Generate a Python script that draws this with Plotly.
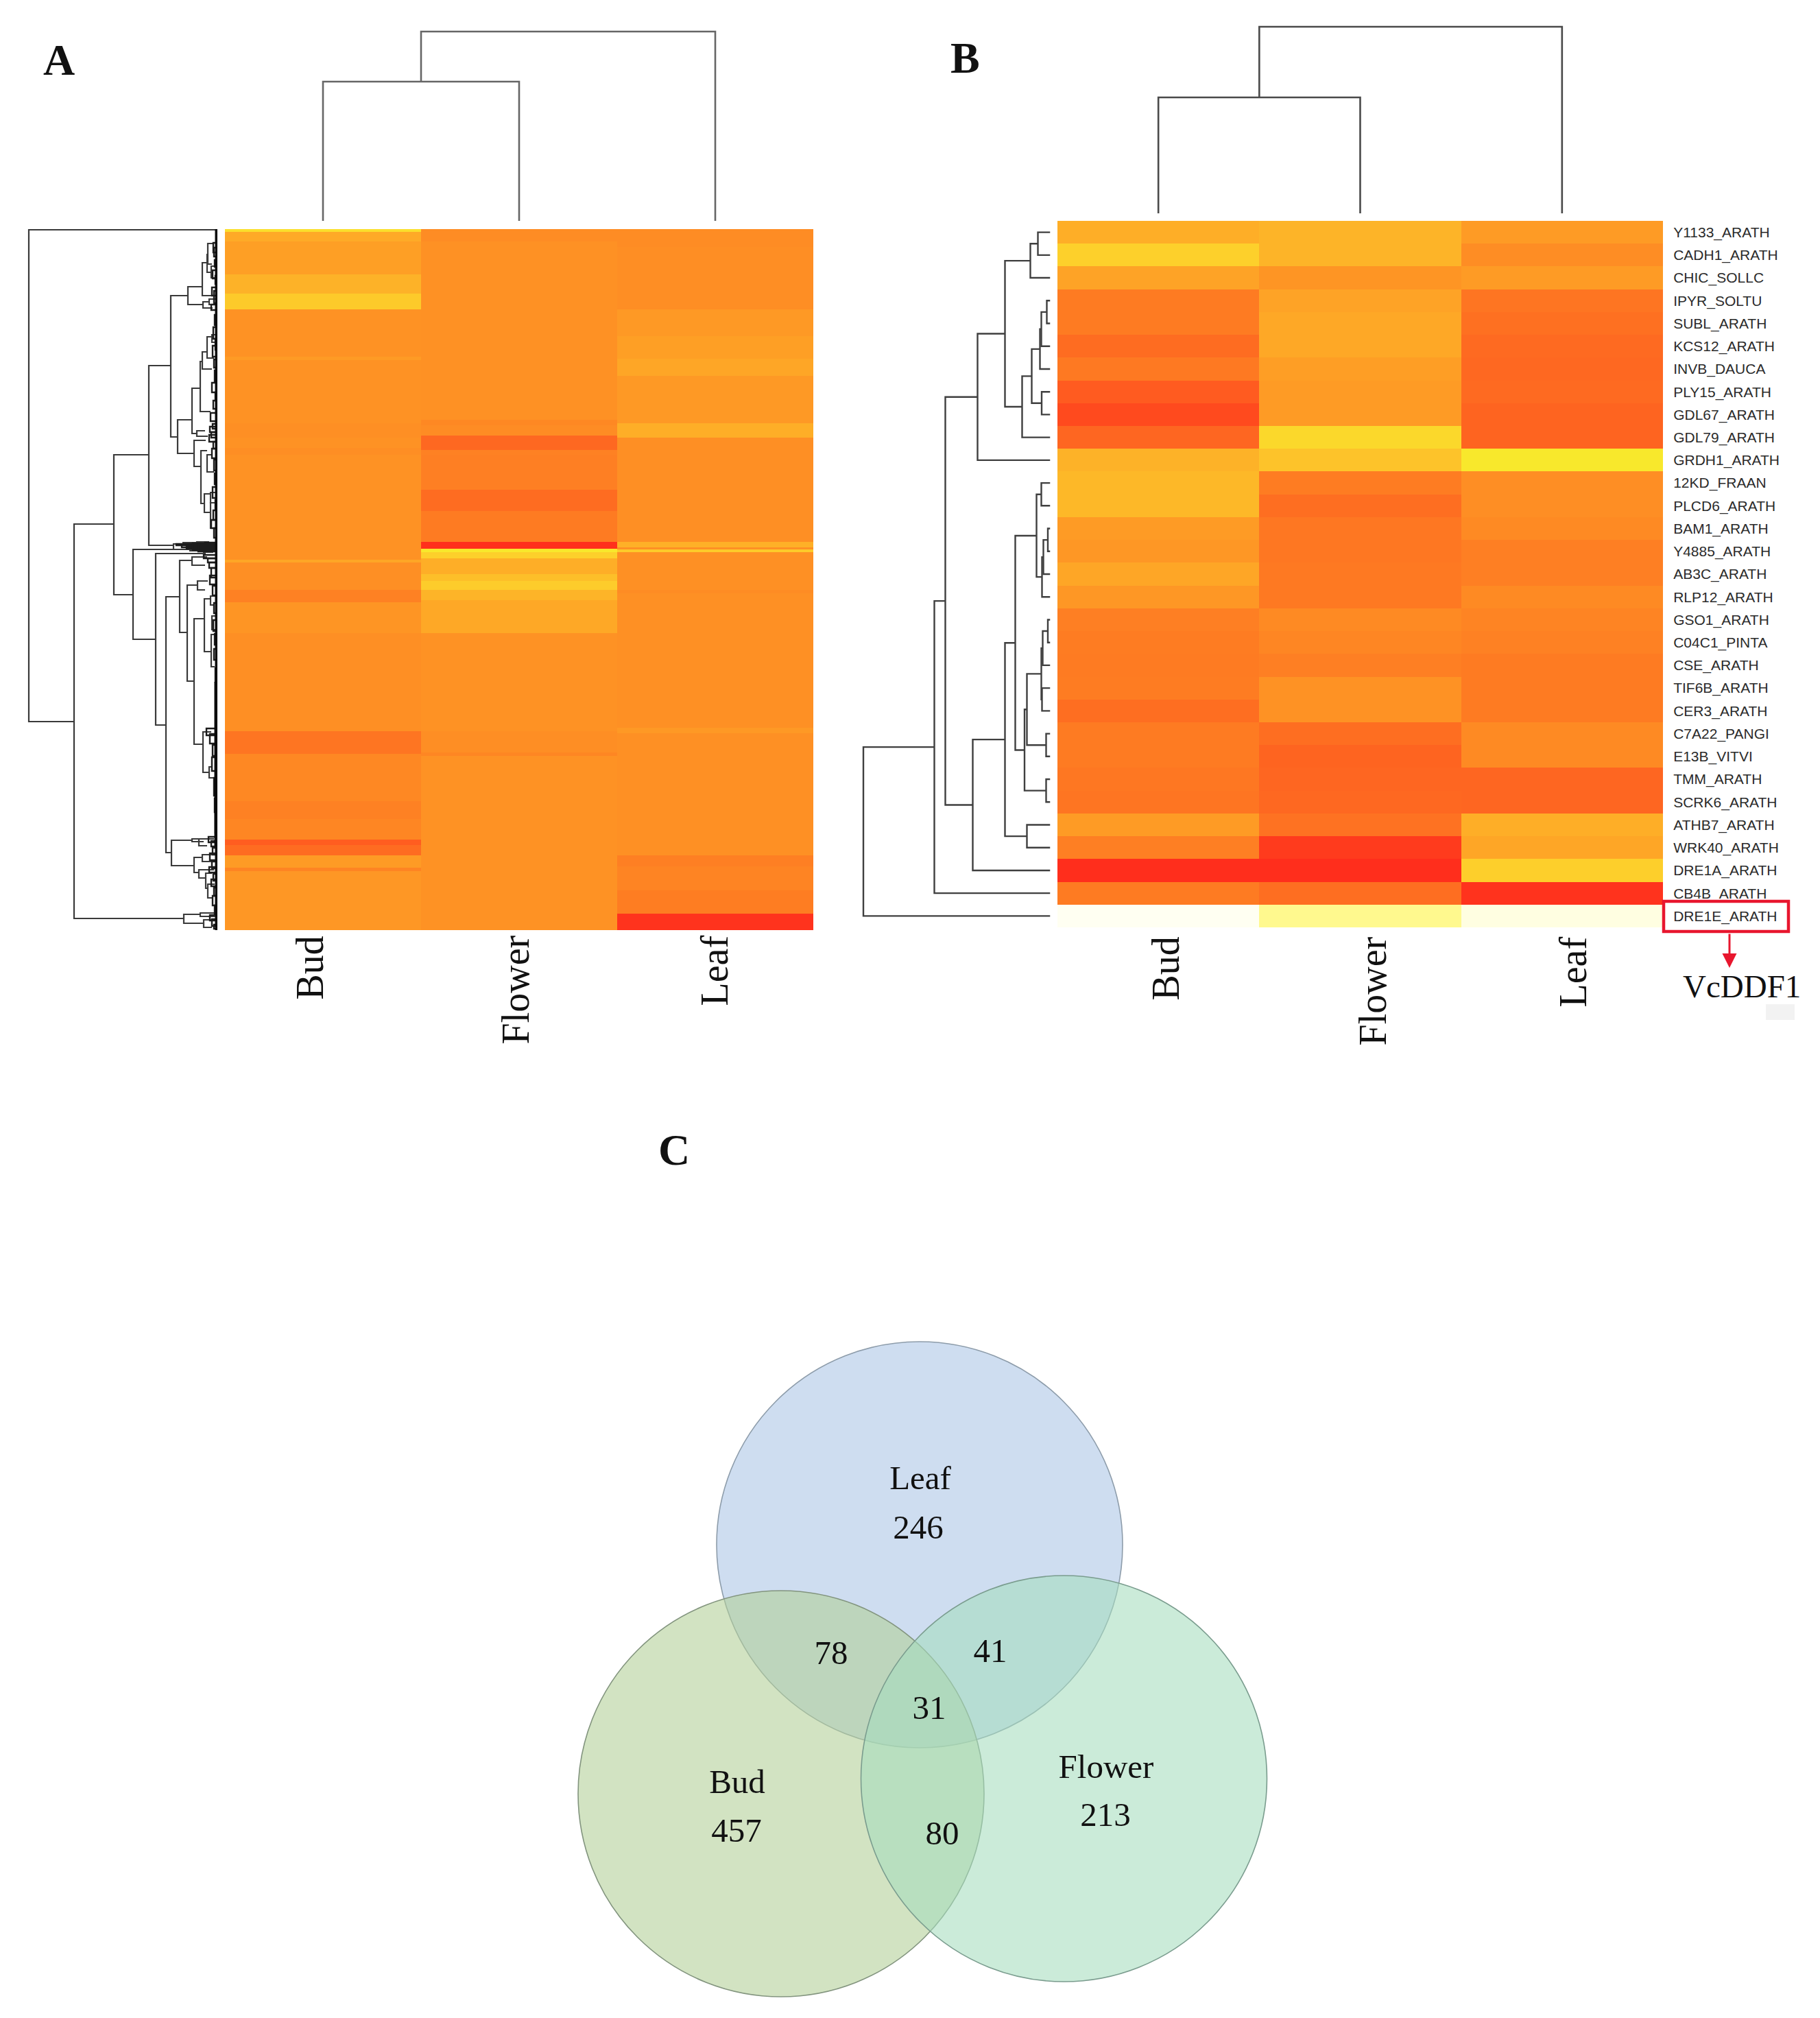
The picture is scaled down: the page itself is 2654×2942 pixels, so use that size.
import plotly.graph_objects as go

W, H = 2654, 2942
COLS = ["Bud", "Flower", "Leaf"]

# ---------- Panel A: bands of genes (rank edges) and expression values per tissue
A_BUD_EDGES = [0,4,18,66,94,117,186,191,283,304,319,329,482,486,526,544,589,732,765,834,860,890,898,913,931,936,1022]
A_BUD_VALS = [.85,.60,.55,.64,.75,.49,.53,.49,.475,.49,.47,.49,.58,.475,.41,.50,.475,.35,.44,.41,.43,.24,.31,.53,.42,.51]
A_FLOWER_EDGES = [0,18,278,286,301,322,329,380,411,456,466,471,480,503,513,526,541,589,732,763,768,1022]
A_FLOWER_VALS = [.46,.485,.44,.46,.29,.41,.40,.31,.38,.03,.89,.78,.62,.70,.76,.65,.59,.49,.47,.43,.49]
A_LEAF_EDGES = [0,26,117,156,189,214,283,304,456,464,467,471,526,531,727,735,913,929,964,998,1022]
A_LEAF_VALS = [.46,.47,.52,.55,.58,.52,.62,.475,.63,.475,.75,.48,.46,.48,.52,.48,.40,.42,.39,.04]

# Panel A row tree: merge height, upper rank, upper child height, lower rank, lower child height
A_ROW_MERGES = [
    (275,1,0,718,209),(209,430,151,1005,49),(151,329,100,533,123),(100,199,68,461,64),(68,97,43,303,58),
    (43,84,22,110,21),(22,49,15,97,5),(15,37,14,63,9),(14,21,6,51,8),(9,54,3,71,3),(21,106,12,115,7),(12,102,2,110,3),
    (58,278,37,327,34),(37,232,25,298,30),(25,193,22,266,10),(22,179,15,204,8),(15,157,8,188,5),(8,154,2,165,3),
    (30,294,18,302,14),(34,308,17,346,24),(24,323,15,400,19),(15,329,7,354,5),(19,386,10,413,10),(10,384,3,399,4),
    (10,399,3,436,4),(64,459,50,467,40),(50,457,30,461,30),(40,465,20,469,20),(30,456,12,460,8),(20,463,9,471,6),
    (123,467,5,598,90),(90,473,17,723,75),(75,536,55,909,67),(55,483,37,588,44),(37,478,15,490,18),(44,519,29,659,34),
    (29,513,14,526,18),(34,568,19,751,21),(19,539,10,616,9),(9,591,5,638,4),(10,535,3,548,4),(8,564,3,584,3),
    (21,733,9,792,12),(12,784,8,800,6),(67,891,37,928,34),(37,889,27,893,20),(27,889,5,899,15),(34,916,22,938,27),
    (22,912,8,922,8),(27,934,5,946,17),(17,939,8,961,14),(14,955,4,975,7),(49,999,25,1012,20),(25,997,3,1002,3),
    (20,1007,6,1018,8),
]
# Tiny leaf clusters of panel A: height, upper rank, lower rank
A_FRINGE = [
    (6,20,34),(5,27,40),(4,45,55),(7,60,72),(3,68,80),(8,85,97),(5,90,108),(9,110,118),(4,125,140),(6,143,160),
    (3,160,176),(7,170,186),(5,190,202),(4,206,222),(8,224,238),(3,238,250),(6,250,262),(10,268,280),(7,284,291),
    (11,288,296),(9,296,304),(12,300,310),(6,310,320),(8,320,334),(5,336,352),(4,356,372),(7,376,392),(3,395,408),
    (6,410,424),(9,424,436),(5,436,450),(60,459,461),(52,460,464),(45,462,466),(36,458,468),(28,460,470),(18,457,463),
    (14,480,486),(20,475,480),(12,486,494),(9,494,508),(11,505,518),(7,520,534),(5,545,560),(6,570,586),(4,590,606),
    (5,612,628),(3,640,660),(2,660,700),(16,728,738),(11,736,750),(7,752,768),(8,770,790),(5,800,826),(4,830,850),
    (3,850,880),(13,886,894),(9,892,900),(7,902,912),(11,910,920),(8,922,932),(12,930,938),(6,940,950),(9,948,958),
    (5,960,972),(7,972,986),(4,986,998),(11,1000,1008),(8,1006,1016),(5,1014,1020),
]
A_SPINE = [(1.5,0,1022),(2.5,660,900)]

# Column trees: (height, child, child); leaves are column indexes
A_COL_TREE = (276, (203, 0, 1), 2)
B_COL_TREE = (272, (169, 0, 1), 2)

# ---------- Panel B
B_GENES = ["Y1133_ARATH","CADH1_ARATH","CHIC_SOLLC","IPYR_SOLTU","SUBL_ARATH","KCS12_ARATH","INVB_DAUCA","PLY15_ARATH",
           "GDL67_ARATH","GDL79_ARATH","GRDH1_ARATH","12KD_FRAAN","PLCD6_ARATH","BAM1_ARATH","Y4885_ARATH","AB3C_ARATH",
           "RLP12_ARATH","GSO1_ARATH","C04C1_PINTA","CSE_ARATH","TIF6B_ARATH","CER3_ARATH","C7A22_PANGI","E13B_VITVI",
           "TMM_ARATH","SCRK6_ARATH","ATHB7_ARATH","WRK40_ARATH","DRE1A_ARATH","CB4B_ARATH","DRE1E_ARATH"]
B_BUD = [.62,.78,.57,.38,.38,.31,.37,.23,.15,.28,.64,.665,.665,.53,.51,.58,.51,.40,.385,.38,.385,.32,.38,.38,.36,.35,.53,.40,.02,.38,1.0]
B_FLOWER = [.65,.65,.50,.57,.59,.59,.545,.53,.53,.815,.72,.385,.32,.36,.36,.37,.37,.45,.43,.40,.49,.49,.32,.27,.28,.29,.34,.08,.02,.32,.97]
B_LEAF = [.53,.465,.53,.35,.33,.30,.29,.30,.27,.27,.89,.47,.47,.45,.40,.40,.45,.42,.41,.38,.38,.38,.45,.45,.28,.28,.62,.58,.775,.04,.995]

_top = (66, (29, (18, 0, 1), 2),
        (41, (27, (15, (13, (5, 3, 4), 5), 6), (12.5, 7, 8)), 9))
_g1 = (106, _top, 10)
_g2 = (20, (13, 11, 12), (12, (10, (3.5, 13, 14), 15), 16))
_g3 = (37.5, (34, (13, (11, (3.5, 17, 18), 19), (12, 20, 21)), (6, 22, 23)), (6, 24, 25))
_g4 = (113, (66, (51, _g2, _g3), (34, 26, 27)), 28)
B_ROW_TREE = (272.5, (169, (153, _g1, _g4), 29), 30)

# ---------- Panel C
VENN_NAMES = ["Leaf", "Bud", "Flower"]
VENN_CX = [541, 339, 751.5]
VENN_CY = [352, 715, 693]
VENN_R = [296, 296, 296]
VENN_FILL = ["rgba(170,197,230,.58)", "rgba(178,206,150,.58)", "rgba(165,220,190,.58)"]
VENN_EDGE = ["#8D9CAA", "#82947E", "#7A9C8E"]
VENN_TEXT = ["Leaf", "246", "78", "41", "31", "Bud", "457", "Flower", "213", "80"]
VENN_TX = [542, 539, 412, 644, 555, 275, 274, 813, 812, 574]
VENN_TY = [259, 331, 514, 511, 594, 702, 773, 680, 750, 777]

SCALE = [[0, "rgb(255,42,28)"], [.488, "rgb(254,146,36)"], [.78, "rgb(253,208,43)"],
         [.892, "rgb(248,232,44)"], [.97, "rgb(255,249,142)"], [1, "rgb(255,255,242)"]]
SERIF = "Liberation Serif"


def dx(a, b):
    return [a / W, b / W]


def dy(top, bottom):
    return [1 - bottom / H, 1 - top / H]


def tree_paths(node, offset=0.0):
    """Walk a nested tree; returns (pos, height, heights[], positions[])."""
    if not isinstance(node, tuple):
        return node + offset, 0, [], []
    h, a, b = node
    pa, ha, xa, ya = tree_paths(a, offset)
    pb, hb, xb, yb = tree_paths(b, offset)
    return (pa + pb) / 2, h, xa + xb + [ha, h, h, hb, None], ya + yb + [pa, pa, pb, pb, None]


fig = go.Figure()
coloraxis = dict(colorscale=SCALE, cmin=0, cmax=1, showscale=False)


def band(edges, vals, col, xa, ya):
    fig.add_trace(go.Heatmap(x=[col, col + 1], y=edges, z=[[v] for v in vals], coloraxis="coloraxis",
                             xaxis=xa, yaxis=ya, hoverinfo="skip"))


for col, (e, v) in enumerate([(A_BUD_EDGES, A_BUD_VALS), (A_FLOWER_EDGES, A_FLOWER_VALS), (A_LEAF_EDGES, A_LEAF_VALS)]):
    band(e, v, col, "x", "y")

fig.add_trace(go.Heatmap(x=COLS, y=B_GENES, z=[list(r) for r in zip(B_BUD, B_FLOWER, B_LEAF)], coloraxis="coloraxis",
                         xaxis="x4", yaxis="y4", hoverinfo="skip"))


def lines(x, y, xa, ya, color, width):
    fig.add_trace(go.Scatter(x=x, y=y, mode="lines", xaxis=xa, yaxis=ya, hoverinfo="skip", showlegend=False,
                             line=dict(color=color, width=width, shape="linear")))


# column dendrograms
_, _, hs, ps = tree_paths(A_COL_TREE, 0.5)
lines(ps, hs, "x2", "y2", "#666666", 2.6)
_, _, hs, ps = tree_paths(B_COL_TREE, 0.5)
lines(ps, hs, "x5", "y5", "#4a4a4a", 2.6)

# row dendrogram A
xs, ys = [], []
for h, r1, h1, r2, h2 in A_ROW_MERGES:
    xs += [h1, h, h, h2, None]
    ys += [r1, r1, r2, r2, None]
lines(xs, ys, "x3", "y3", "#3a3a3a", 2.2)
xs, ys = [], []
for h, r1, r2 in A_FRINGE:
    xs += [0, h, h, 0, None]
    ys += [r1, r1, r2, r2, None]
lines(xs, ys, "x3", "y3", "#1c1c1c", 2.4)
xs, ys = [], []
for h, r1, r2 in A_SPINE:
    xs += [h, h, None]
    ys += [r1, r2, None]
lines(xs, ys, "x3", "y3", "#0a0a0a", 4)

# row dendrogram B
_, _, hs, ps = tree_paths(B_ROW_TREE)
lines(hs, ps, "x6", "y6", "#3f3f3f", 2.4)

# venn labels
fig.add_trace(go.Scatter(x=VENN_TX, y=VENN_TY, text=VENN_TEXT, mode="text", xaxis="x7", yaxis="y7", hoverinfo="skip",
                         showlegend=False, textfont=dict(family=SERIF, size=49, color="#111111"),
                         textposition="middle center"))

hidden = dict(visible=False, fixedrange=True)
layout = dict(
    width=W, height=H, margin=dict(l=0, r=0, t=0, b=0), paper_bgcolor="white", plot_bgcolor="rgba(0,0,0,0)",
    showlegend=False, coloraxis=coloraxis,
    xaxis=dict(hidden, domain=dx(328, 1186), range=[0, 3], anchor="y"),
    yaxis=dict(hidden, domain=dy(334, 1356), range=[1022, 0], anchor="x"),
    xaxis2=dict(hidden, domain=dx(328, 1186), range=[0, 3], anchor="y2"),
    yaxis2=dict(hidden, domain=dy(40, 322), range=[0, 282], anchor="x2"),
    xaxis3=dict(hidden, domain=dx(30, 317), range=[287, 0], anchor="y3"),
    yaxis3=dict(hidden, domain=dy(334, 1356), range=[1022, 0], anchor="x3"),
    xaxis4=dict(hidden, domain=dx(1542, 2425), range=[-.5, 2.5], anchor="y4"),
    yaxis4=dict(domain=dy(322, 1352), range=[30.5, -.5], anchor="x4", side="right", tickmode="array",
                tickvals=B_GENES, ticktext=B_GENES, ticks="outside", ticklen=10, tickcolor="rgba(0,0,0,0)",
                tickfont=dict(family="Liberation Sans", size=21, color="#2b2b2b"), showgrid=False, zeroline=False,
                showline=False, fixedrange=True),
    xaxis5=dict(hidden, domain=dx(1542, 2425), range=[0, 3], anchor="y5"),
    yaxis5=dict(hidden, domain=dy(30, 311), range=[0, 281], anchor="x5"),
    xaxis6=dict(hidden, domain=dx(1250, 1531.5), range=[281.5, 0], anchor="y6"),
    yaxis6=dict(hidden, domain=dy(322, 1352), range=[30.5, -.5], anchor="x6"),
    xaxis7=dict(hidden, domain=dx(800, 1900), range=[0, 1100], anchor="y7"),
    yaxis7=dict(hidden, domain=dy(1900, 2940), range=[1040, 0], anchor="x7"),
)

shapes = []
for cx, cy, r, fill, edge in zip(VENN_CX, VENN_CY, VENN_R, VENN_FILL, VENN_EDGE):
    shapes.append(dict(type="circle", xref="x7", yref="y7", x0=cx - r, x1=cx + r, y0=cy - r, y1=cy + r,
                       fillcolor=fill, line=dict(color=edge, width=1.6), layer="below"))
shapes.append(dict(type="rect", xref="paper", yref="paper", x0=2426 / W, x1=2608 / W, y0=1 - 1358 / H, y1=1 - 1314 / H,
                   line=dict(color="#E8162E", width=4.5), fillcolor="rgba(0,0,0,0)"))
shapes.append(dict(type="rect", xref="paper", yref="paper", x0=2575 / W, x1=2617 / W, y0=1 - 1487 / H, y1=1 - 1464 / H,
                   line=dict(width=0), fillcolor="#F2F2F2", layer="below"))


def text(t, px, py, size, angle=0, bold=False, yanchor="middle", color="#111111"):
    s = f"<b>{t}</b>" if bold else t
    return dict(text=s, x=px / W, y=1 - py / H, xref="paper", yref="paper", showarrow=False, textangle=angle,
                xanchor="center", yanchor=yanchor, font=dict(family=SERIF, size=size, color=color))


ann = [text("A", 86, 87, 64, bold=True), text("B", 1407, 84, 64, bold=True), text("C", 983, 1676, 64, bold=True),
       text("VcDDF1", 2540, 1438, 47, color="#111111")]
for name, px in zip(COLS, [451, 751, 1041]):
    ann.append(text(name, px, 1362, 56, angle=-90, yanchor="top"))
for name, px in zip(COLS, [1699, 2001, 2293]):
    ann.append(text(name, px, 1364, 56, angle=-90, yanchor="top"))
ann.append(dict(text="", x=2522 / W, y=1 - 1411 / H, xref="paper", yref="paper", showarrow=True, ax=0, ay=-51,
                arrowcolor="#E8162E", arrowwidth=3, arrowhead=2, arrowsize=1.4))

fig.update_layout(**layout, shapes=shapes, annotations=ann)
fig.write_html("out.html", config=dict(displayModeBar=False), post_script="document.body.style.margin='0';")
